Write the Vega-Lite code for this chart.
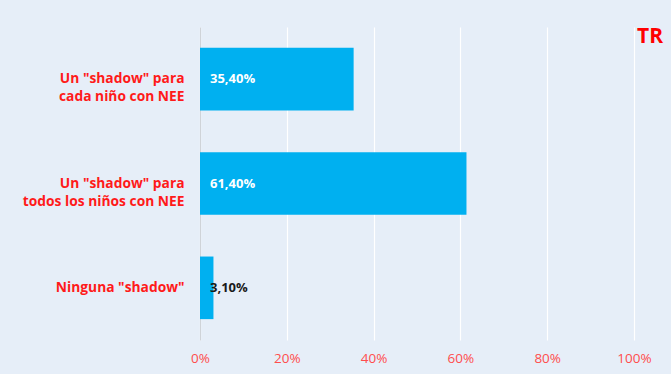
{
  "$schema": "https://vega.github.io/schema/vega-lite/v6.json",
  "width": 434,
  "height": 313,
  "autosize": "none",
  "padding": {"left": 200, "top": 27, "right": 37, "bottom": 34},
  "background": "#e6eef8",
  "config": {
    "locale": {"number": {"decimal": ",", "thousands": ".", "grouping": [3], "currency": ["", " €"]}},
    "view": {"stroke": null},
    "font": "Open Sans"
  },
  "title": {
    "text": "TR",
    "anchor": "end",
    "orient": "top",
    "frame": "group",
    "color": "#ff0000",
    "font": "Open Sans",
    "fontSize": 21,
    "fontWeight": "bold",
    "baseline": "top",
    "offset": 0,
    "dx": 29,
    "dy": 20
  },
  "data": {
    "values": [
      {"category": "Un \"shadow\" para\ncada niño con NEE", "value": 0.354},
      {"category": "Un \"shadow\" para\ntodos los niños con NEE", "value": 0.614},
      {"category": "Ninguna \"shadow\"", "value": 0.031}
    ]
  },
  "encoding": {
    "y": {
      "field": "category",
      "type": "nominal",
      "sort": null,
      "scale": {"paddingInner": 0.4, "paddingOuter": 0.2},
      "axis": {
        "title": null,
        "labelExpr": "split(datum.value, '\\n')",
        "labelColor": "#ff1a1a",
        "labelFont": "Open Sans",
        "labelFontSize": 13.8,
        "labelFontWeight": "bold",
        "labelLineHeight": 18,
        "labelPadding": 16,
        "ticks": false,
        "domain": true,
        "domainColor": "#cfd3d8",
        "labelLimit": 220
      }
    }
  },
  "layer": [
    {
      "mark": {"type": "bar", "color": "#00b0f0"},
      "encoding": {
        "x": {
          "field": "value",
          "type": "quantitative",
          "scale": {"domain": [0, 1]},
          "axis": {
            "title": null,
            "format": ".0%",
            "values": [0, 0.2, 0.4, 0.6, 0.8, 1],
            "grid": true,
            "gridColor": "#ffffff",
            "gridWidth": 1.2,
            "gridOpacity": 1,
            "domain": false,
            "ticks": false,
            "labelColor": "#ff4d4d",
            "labelFont": "Open Sans",
            "labelFontSize": 13.5,
            "labelPadding": 11,
            "labelFlush": false
          }
        }
      }
    },
    {
      "mark": {"type": "text", "align": "left", "baseline": "middle", "dx": 10, "fontSize": 13, "fontWeight": "bold", "font": "Open Sans"},
      "encoding": {
        "x": {"datum": 0, "type": "quantitative"},
        "text": {"field": "value", "type": "quantitative", "format": ".2%"},
        "color": {
          "condition": {"test": "datum.value < 0.1", "value": "#1a1a1a"},
          "value": "#ffffff"
        }
      }
    }
  ]
}
